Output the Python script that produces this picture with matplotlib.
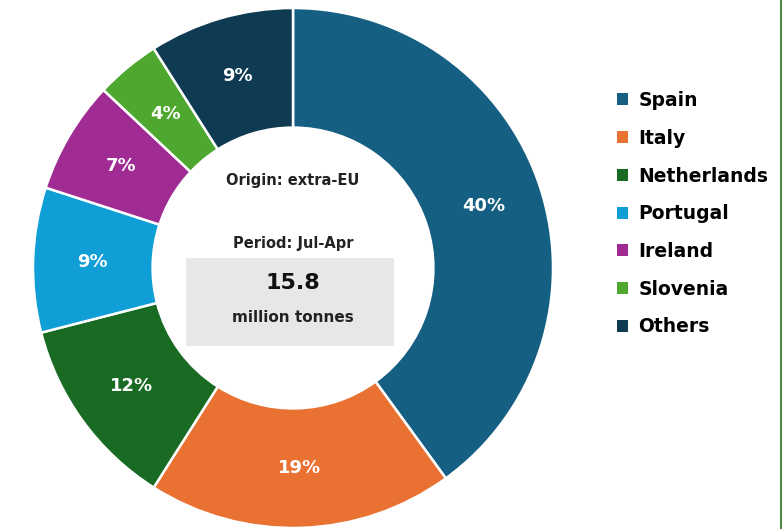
import matplotlib.pyplot as plt
from matplotlib.patches import Patch, Rectangle
from matplotlib.lines import Line2D

plt.rcParams['font.family'] = ['DejaVu Sans']

countries = ['Spain', 'Italy', 'Netherlands', 'Portugal', 'Ireland', 'Slovenia', 'Others']
shares = [40, 19, 12, 9, 7, 4, 9]
colors = ['#156082', '#E97132', '#196B24', '#0F9ED5', '#A02B93', '#4EA72E', '#0E3A52']
total_label = '15.8'
unit_label = 'million tonnes'
origin_label = 'Origin: extra-EU'
period_label = 'Period: Jul-Apr'

W, H = 783, 529
fig = plt.figure(figsize=(W / 100, H / 100), dpi=100)

# pie centre ~ (293, 268) px from top, radius ~260 px
cx, cy, r = 293, 268, 260
ax = fig.add_axes([(cx - r) / W, (H - cy - r) / H, 2 * r / W, 2 * r / H])

wedges, texts, autotexts = ax.pie(
    shares, colors=colors, startangle=90, counterclock=False, radius=1,
    autopct='%d%%', pctdistance=0.77,
    wedgeprops=dict(width=0.46, edgecolor='white', linewidth=1.8),
    textprops=dict(color='white', fontsize=13, fontweight='bold'))
ax.set_xlim(-1, 1)
ax.set_ylim(-1, 1)
ax.set_aspect('auto')
ax.axis('off')

# centre text
ax.text(0, 0.335, origin_label, ha='center', va='center', fontsize=10.5, fontweight='bold', color='#222222')
ax.text(0, 0.096, period_label, ha='center', va='center', fontsize=10.5, fontweight='bold', color='#222222')
ax.add_patch(Rectangle((-0.41, -0.30), 0.80, 0.338, facecolor='#E7E7E7', edgecolor='none'))
ax.text(0, -0.058, total_label, ha='center', va='center', fontsize=16, fontweight='bold', color='#111111')
ax.text(0, -0.192, unit_label, ha='center', va='center', fontsize=11, fontweight='bold', color='#222222')

handles = [Patch(facecolor=c, edgecolor='none') for c in colors]
fig.legend(handles, countries, loc='upper left', bbox_to_anchor=(617 / W, 1 - 91 / H),
           frameon=False, borderpad=0, borderaxespad=0,
           handlelength=0.6, handleheight=0.6, handletextpad=0.55, labelspacing=1.0,
           prop=dict(weight='bold', size=13.5))

# thin green frame line on the right edge
fig.add_artist(Line2D([780.5 / W, 780.5 / W], [0, 1], color='#4F8B3F', linewidth=1.5))

fig.savefig('out.png', dpi=100)
